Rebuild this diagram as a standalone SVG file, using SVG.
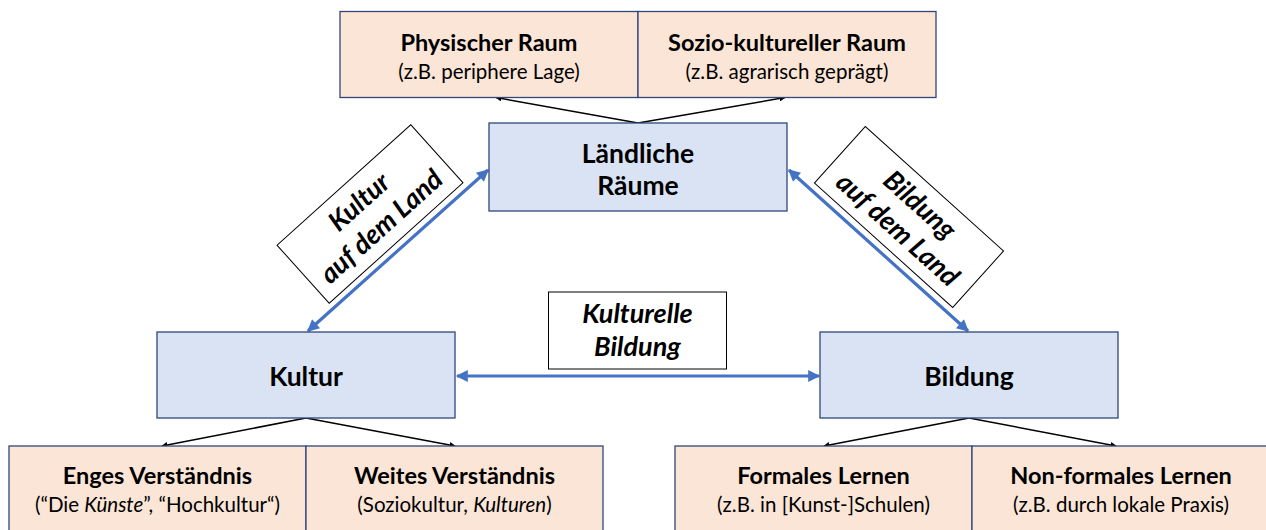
<svg xmlns="http://www.w3.org/2000/svg" width="1266" height="530" viewBox="0 0 1266 530">
<defs>
<style>
.peach{fill:#fbe5d6;stroke:#2f4779;stroke-width:1.3}
.blue{fill:#dae3f3;stroke:#2f4779;stroke-width:1.3}
.lbl{fill:#fff;stroke:#000;stroke-width:1}
text{font-family:Lato,"Open Sans","Liberation Sans",sans-serif;fill:#000;text-anchor:middle}
.t{font-size:23.5px;font-weight:700}
.s{font-size:20.5px}
.m{font-size:26.5px;font-weight:700}
.bi{font-size:27px;font-weight:700;font-style:italic}
.blk{stroke:#000;stroke-width:1.5;fill:none}
.bl{stroke:#4472c4;stroke-width:3.2;fill:none}
</style>
<marker id="ab" viewBox="0 0 10 10" refX="9" refY="5" markerWidth="6" markerHeight="6" orient="auto-start-reverse" markerUnits="userSpaceOnUse">
<path d="M0,0 L10,5 L0,10 z" fill="#000"/>
</marker>
<marker id="au" viewBox="0 0 10 10" refX="9" refY="5" markerWidth="14" markerHeight="12" orient="auto-start-reverse" markerUnits="userSpaceOnUse">
<path d="M0,0 L10,5 L0,10 z" fill="#4472c4"/>
</marker>
</defs>

<g id="connectors">
<line class="blk" x1="638" y1="123" x2="496" y2="97.5" marker-end="url(#ab)"/>
<line class="blk" x1="638" y1="123" x2="785" y2="97.5" marker-end="url(#ab)"/>
<line class="blk" x1="306" y1="418" x2="162" y2="446" marker-end="url(#ab)"/>
<line class="blk" x1="306" y1="418" x2="455" y2="446" marker-end="url(#ab)"/>
<line class="blk" x1="969" y1="418" x2="824" y2="446" marker-end="url(#ab)"/>
<line class="blk" x1="969" y1="418" x2="1116" y2="446" marker-end="url(#ab)"/>
<line class="bl" x1="488" y1="170" x2="308" y2="331" marker-start="url(#au)" marker-end="url(#au)"/>
<line class="bl" x1="789" y1="170" x2="968" y2="331" marker-start="url(#au)" marker-end="url(#au)"/>
<line class="bl" x1="457" y1="376" x2="819" y2="376" marker-start="url(#au)" marker-end="url(#au)"/>
</g>

<g id="physischer-raum">
<rect class="peach" x="340" y="11.5" width="298" height="86"/>
<text class="t" x="489" y="51">Physischer Raum</text>
<text class="s" x="489" y="79">(z.B. periphere Lage)</text>
</g>
<g id="sozio-kultureller-raum">
<rect class="peach" x="638" y="11.5" width="298" height="86"/>
<text class="t" x="787" y="51">Sozio-kultureller Raum</text>
<text class="s" x="787" y="79">(z.B. agrarisch geprägt)</text>
</g>

<g id="laendliche-raeume">
<rect class="blue" x="489" y="123" width="298" height="88"/>
<text class="m" x="638" y="163">Ländliche</text>
<text class="m" x="638" y="195">Räume</text>
</g>

<g id="kultur">
<rect class="blue" x="157" y="332" width="298" height="86"/>
<text class="m" x="306" y="386">Kultur</text>
</g>

<g id="bildung">
<rect class="blue" x="820" y="332" width="298" height="86"/>
<text class="m" x="969" y="386">Bildung</text>
</g>

<g id="label-kultur-auf-dem-land" transform="translate(370,214) rotate(-42)">
<rect class="lbl" x="-90" y="-39" width="180" height="78"/>
<text class="bi" x="0" y="-7">Kultur</text>
<text class="bi" x="0" y="26">auf dem Land</text>
</g>

<g id="label-bildung-auf-dem-land" transform="translate(909,217) rotate(42)">
<rect class="lbl" x="-93" y="-38" width="186" height="76"/>
<text class="bi" x="0" y="-7">Bildung</text>
<text class="bi" x="0" y="26">auf dem Land</text>
</g>

<g id="label-kulturelle-bildung">
<rect class="lbl" x="548.5" y="292" width="178" height="77"/>
<text class="bi" x="637.5" y="323">Kulturelle</text>
<text class="bi" x="637.5" y="356">Bildung</text>
</g>

<g id="enges-verstaendnis">
<rect class="peach" x="9" y="446" width="297" height="90"/>
<text class="t" x="157.5" y="484">Enges Verständnis</text>
<text class="s" x="157.5" y="512">(“Die <tspan font-style="italic">Künste</tspan>”, “Hochkultur“)</text>
</g>
<g id="weites-verstaendnis">
<rect class="peach" x="306" y="446" width="297" height="90"/>
<text class="t" x="454.5" y="484">Weites Verständnis</text>
<text class="s" x="454.5" y="512">(Soziokultur, <tspan font-style="italic">Kulturen</tspan>)</text>
</g>
<g id="formales-lernen">
<rect class="peach" x="675" y="446" width="297" height="90"/>
<text class="t" x="823.5" y="484">Formales Lernen</text>
<text class="s" x="823.5" y="512">(z.B. in [Kunst-]Schulen)</text>
</g>
<g id="non-formales-lernen">
<rect class="peach" x="972" y="446" width="298" height="90"/>
<text class="t" x="1121" y="484">Non-formales Lernen</text>
<text class="s" x="1121" y="512">(z.B. durch lokale Praxis)</text>
</g>
</svg>
